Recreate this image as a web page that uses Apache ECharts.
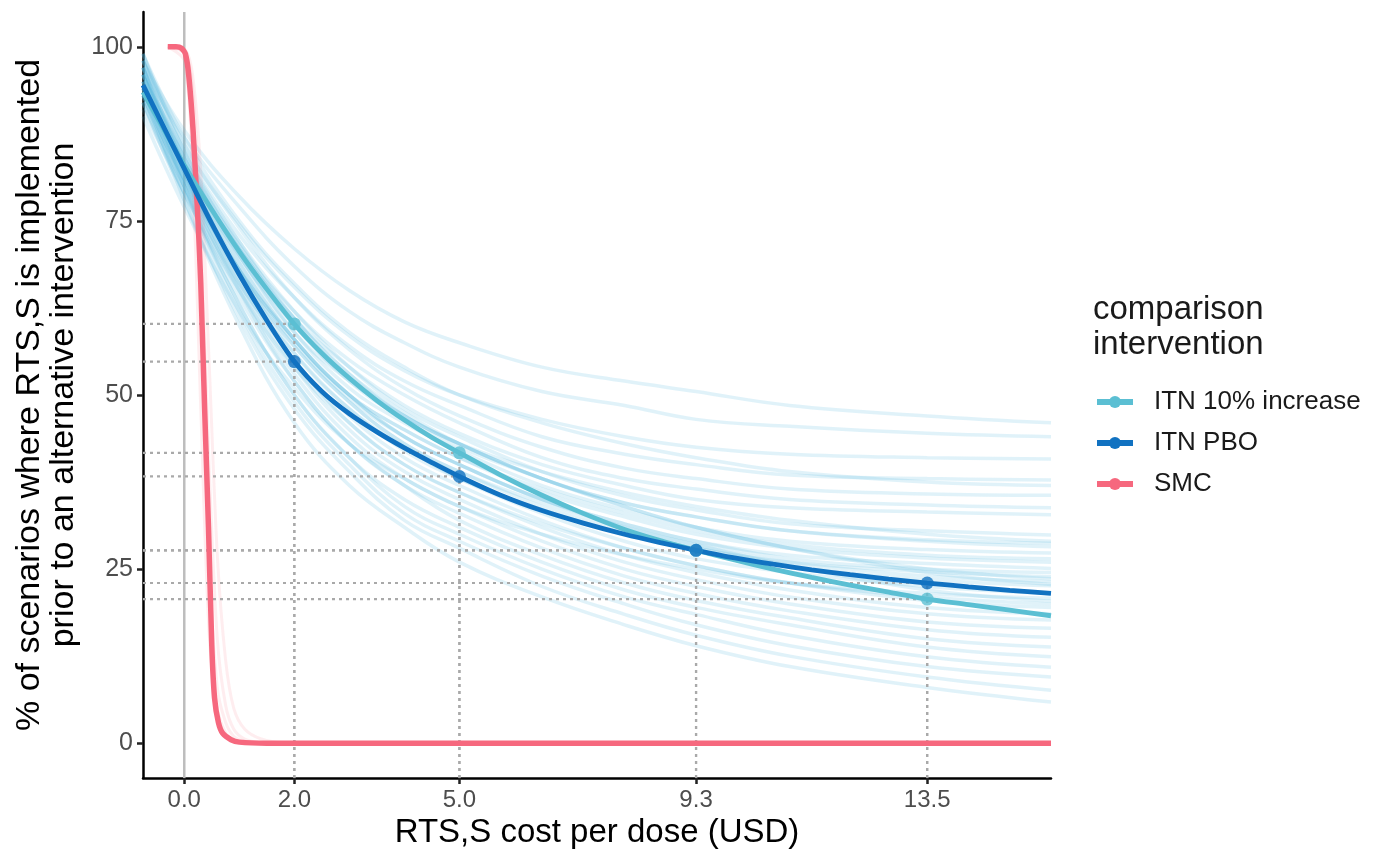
<!DOCTYPE html>
<html>
<head>
<meta charset="utf-8">
<script src="https://cdn.jsdelivr.net/npm/echarts@6/dist/echarts.min.js"></script>
<style>
  html, body { margin: 0; padding: 0; background: #ffffff; }
  #chart { width: 1376px; height: 855px; }
</style>
</head>
<body>
<div id="chart"></div>
<script>
// Axis ranges and tick positions
const costMin = -0.75, costMax = 15.75;
const pctMin = -5, pctMax = 105;
const costTicks = [0, 2, 5, 9.3, 13.5];
const pctTicks = [0, 25, 50, 75, 100];

// Cost values (USD per dose) at which the bootstrap draws are sampled
const drawCost = [-0.75, 0, 1, 2, 3, 4, 5, 6.5, 8, 9.3, 11, 13.5, 15.75];
// Bootstrap draws for the ITN comparisons (% of scenarios)
const itnDraws = [
  [98, 88, 78.5, 71, 65, 60.5, 57.5, 54, 52, 50.5, 48.5, 47, 46],
  [97, 87, 77, 68.5, 62, 57.5, 54, 50.5, 48.5, 46.5, 45.5, 44.5, 44],
  [99, 86, 74.5, 65.5, 58.5, 53.5, 50, 46.5, 44, 42.5, 41.5, 41, 40.8],
  [96, 85, 73, 64, 57, 52, 48.5, 44, 41.5, 40, 38.5, 38, 37.8],
  [98, 86, 74, 64, 56.5, 51, 47, 42.5, 39.5, 38, 36.5, 35.8, 35.6],
  [97, 84, 71.5, 62, 55, 50, 46, 41, 38, 36.5, 35, 34.2, 33.8],
  [95, 83, 71, 61, 54, 48.5, 44.5, 40, 37, 35, 33.8, 33.2, 32.8],
  [96, 84, 72, 62, 54, 48, 44, 39, 35.5, 33.5, 31.5, 30.5, 29.9],
  [99, 85, 71, 60, 52.5, 47, 43, 38, 34.5, 32.5, 30.5, 29.2, 28.7],
  [94, 82, 70, 59, 51, 46, 42, 37, 33.5, 31, 29, 27.8, 27.3],
  [97, 83, 69, 58, 50, 45, 41, 36, 32.5, 30, 28, 26.6, 26],
  [93, 81, 68, 57.5, 49.5, 44, 40, 35, 31.5, 29, 27, 25.8, 25.1],
  [96, 82, 68, 57, 49, 43, 39, 34, 30.5, 28, 26, 24.6, 23.9],
  [98, 83, 68, 56, 48, 42.5, 38, 33, 29, 26.5, 24.5, 22.5, 21.5],
  [95, 81, 67, 55, 47, 41, 37, 32, 28, 25.5, 23, 21, 20],
  [92, 80, 66, 55, 46, 40, 36, 31, 27, 24.5, 22, 19.5, 18.6],
  [97, 82, 66, 54, 45, 39, 35, 30, 26, 23.5, 21, 18.6, 17.7],
  [94, 80, 65, 53, 44, 38, 34, 29, 25, 22.5, 20, 17.4, 16.5],
  [96, 81, 65, 52, 43, 37, 33, 28, 24, 21.5, 19, 16.3, 15.2],
  [91, 79, 64, 52, 43, 37, 32, 27, 23, 20.5, 18, 15, 13.8],
  [95, 80, 63, 50, 41, 35, 31, 26, 22, 19.5, 17, 13.8, 12.4],
  [93, 79, 63, 50, 41, 34, 30, 25, 21, 18.5, 15.5, 12.4, 10.9],
  [97, 80, 62, 49, 40, 33, 29, 24, 20, 17, 14, 11, 9.5],
  [92, 78, 61, 48, 39, 32, 28, 22.5, 18.5, 15.5, 12.5, 9.5, 7.6],
  [94, 78, 60, 46, 37, 31, 26, 21, 17, 14, 11, 8, 5.9],
  [90, 77, 62, 51, 43, 38, 34, 30, 27, 25, 23, 21.5, 20.8],
  [96, 84, 70, 59, 52, 47, 43, 39, 36, 34, 32, 30, 29],
  [98, 85, 72, 61, 53, 47, 43, 38, 34.5, 32.5, 30.5, 29, 28.2],
  [93, 80, 66, 56, 48, 42, 38, 33.5, 30, 28, 25.5, 23.5, 22.6],
  [95, 82, 68, 58, 50, 45, 41, 36.5, 33, 30.5, 28.5, 27, 26.5],
  [99, 87, 75, 66, 59, 54, 50, 46, 43, 41, 39, 37.5, 37],
  [94, 81, 67, 57, 49, 43, 39, 34.5, 31, 28.5, 26, 24, 23.2],
  [92, 79, 65, 54, 46, 40, 36, 31.5, 28, 25.5, 23, 20.5, 19.5],
  [96, 83, 69, 58, 50, 44, 40, 35, 31.5, 29, 26.5, 25, 24.5],
  [97, 84, 70, 60, 52, 46.5, 42.5, 38, 34, 31, 28, 25, 23.6],
  [95, 83, 71, 61, 53, 47.5, 43, 38, 34, 31, 28, 24.5, 22.8],
  [93, 81, 68, 58, 50, 44, 40, 35, 31, 28.5, 25.5, 22, 20.4]
];

// Bootstrap draws for the SMC comparison
const smcDrawCost = [-0.3, 0, 0.15, 0.3, 0.45, 0.6, 0.75, 0.9, 1.1, 1.4, 1.8, 15.75];
const smcDraws = [
  [100, 99, 90, 62, 26, 8, 3, 1, 0.3, 0, 0, 0],
  [100, 99.5, 94, 74, 40, 15, 5.5, 2, 0.6, 0.1, 0, 0],
  [100, 98, 82, 48, 16, 5, 1.5, 0.5, 0, 0, 0, 0],
  [100, 99.7, 96, 82, 55, 27, 12, 5, 2, 0.6, 0.1, 0]
];

// Central estimates for the ITN comparisons
const itnCost = [-0.75, 0, 0.5, 1, 1.5, 2, 2.5, 3, 3.5, 4, 4.5, 5, 5.75, 6.5, 7.25, 8, 8.65, 9.3,
                 10, 10.7, 11.4, 12.1, 12.8, 13.5, 14.25, 15, 15.75];
const itnPct = [93.5, 83, 76.6, 70.6, 65.2, 60.2, 56.0, 52.4, 49.2, 46.4, 43.9, 41.7, 38.5, 35.6, 33.0, 30.7, 29.1, 27.7,
                26.3, 25.0, 23.8, 22.7, 21.7, 20.7, 19.9, 19.1, 18.3];
const pboPct = [94.5, 82.5, 74.6, 67.3, 60.7, 54.8, 50.5, 47.3, 44.7, 42.4, 40.3, 38.3, 35.6, 33.4, 31.6, 30.0, 28.8, 27.7,
                26.6, 25.7, 24.9, 24.2, 23.55, 23.0, 22.45, 21.95, 21.5];
// Central estimate for SMC
const smcCost = [-0.3, -0.15, -0.05, 0.02, 0.08, 0.16, 0.25, 0.3, 0.37, 0.44, 0.5, 0.55, 0.62, 0.7, 0.85, 1.0, 1.5, 15.75];
const smcPct  = [100, 100, 99.8, 99, 96, 88, 75, 66, 48, 31, 14, 6.5, 3, 1.4, 0.5, 0.15, 0, 0];

// Highlighted cost points on each ITN curve
const markedCost = [2, 5, 9.3, 13.5];
const itnMarked = [60.2, 41.7, 27.7, 20.7];
const pboMarked = [54.8, 38.3, 27.7, 23.0];

const names = ['ITN 10% increase', 'ITN PBO', 'SMC'];
const colors = { itn: '#5bbfd3', pbo: '#1172c1', smc: '#f6687e' };
const font = '"Liberation Sans", Arial, sans-serif';

const pair = (xs, ys) => xs.map((x, i) => [x, ys[i]]);

const series = [];

// zero-cost reference line
series.push({
  type: 'line', silent: true, symbol: 'none', z: 1,
  data: [[0, pctMin], [0, pctMax]],
  lineStyle: { color: '#bdbdbd', width: 2.5 }
});

itnDraws.forEach(d => series.push({
  type: 'line', silent: true, symbol: 'none', smooth: 0.4, z: 2,
  data: pair(drawCost, d),
  lineStyle: { color: 'rgba(85,185,220,0.18)', width: 3.5 }
}));
smcDraws.forEach(d => series.push({
  type: 'line', silent: true, symbol: 'none', smooth: 0.3, z: 2,
  data: pair(smcDrawCost, d),
  lineStyle: { color: 'rgba(246,104,126,0.12)', width: 3 }
}));

// dotted guides from highlighted points to the axes
function guides(ys) {
  markedCost.forEach((x, i) => {
    const y = ys[i];
    series.push({
      type: 'line', silent: true, symbol: 'none', z: 3,
      data: [[costMin, y], [x, y]],
      lineStyle: { color: '#a9a9a9', width: 2.2, type: [3, 4] }
    });
    series.push({
      type: 'line', silent: true, symbol: 'none', z: 3,
      data: [[x, pctMin], [x, y]],
      lineStyle: { color: '#a9a9a9', width: 2.2, type: [3, 4] }
    });
  });
}
guides(itnMarked);
guides(pboMarked);

function mainLine(name, xs, ys, color, width, z, smooth) {
  return {
    name, type: 'line', silent: true, smooth,
    symbol: 'circle', symbolSize: 12, showSymbol: false, z,
    data: pair(xs, ys),
    itemStyle: { color },
    lineStyle: { color, width }
  };
}
series.push(mainLine(names[2], smcCost, smcPct, colors.smc, 5.5, 5, 0.2));
series.push(mainLine(names[0], itnCost, itnPct, colors.itn, 4.8, 6, 0.3));
series.push(mainLine(names[1], itnCost, pboPct, colors.pbo, 4.8, 7, 0.3));

series.push({
  type: 'scatter', silent: true, symbolSize: 13, z: 8,
  data: pair(markedCost, itnMarked), itemStyle: { color: colors.itn }
});
series.push({
  type: 'scatter', silent: true, symbolSize: 13, z: 9,
  data: pair(markedCost, pboMarked), itemStyle: { color: colors.pbo }
});

const chart = echarts.init(document.getElementById('chart'), null, { renderer: 'canvas' });
chart.setOption({
  animation: false,
  backgroundColor: '#ffffff',
  textStyle: { fontFamily: font },
  grid: { left: 143, top: 12, width: 908, height: 766, containLabel: false },
  title: {
    text: 'comparison\nintervention',
    left: 1088, top: 287,
    textStyle: { fontFamily: font, fontSize: 33, fontWeight: 'normal', color: '#1a1a1a', lineHeight: 35 }
  },
  legend: {
    data: names,
    orient: 'vertical',
    left: 1089, top: 384,
    itemWidth: 36, itemHeight: 15, itemGap: 15,
    selectedMode: false,
    lineStyle: { width: 6 },
    textStyle: { fontFamily: font, fontSize: 26, color: '#1a1a1a', lineHeight: 26, padding: [0, 0, 0, 16] }
  },
  xAxis: {
    type: 'value', min: costMin, max: costMax,
    name: 'RTS,S cost per dose (USD)', nameLocation: 'middle', nameGap: 34,
    nameTextStyle: { fontFamily: font, fontSize: 33, color: '#000' },
    axisLine: { onZero: false, lineStyle: { color: '#000', width: 2.5 } },
    axisTick: { customValues: costTicks, length: 6, lineStyle: { color: '#222', width: 2.5 } },
    axisLabel: { customValues: costTicks, margin: 10, fontSize: 24, color: '#4d4d4d', fontFamily: font,
                 formatter: v => v.toFixed(1) },
    splitLine: { show: false }
  },
  yAxis: {
    type: 'value', min: pctMin, max: pctMax,
    name: '% of scenarios where RTS,S is implemented\nprior to an alternative intervention',
    nameLocation: 'middle', nameGap: 60,
    nameTextStyle: { fontFamily: font, fontSize: 34, color: '#000', lineHeight: 34 },
    axisLine: { onZero: false, lineStyle: { color: '#000', width: 2.5 } },
    axisTick: { customValues: pctTicks, length: 6, lineStyle: { color: '#222', width: 2.5 } },
    axisLabel: { customValues: pctTicks, margin: 10, fontSize: 25, color: '#4d4d4d', fontFamily: font },
    splitLine: { show: false }
  },
  series
});
</script>
</body>
</html>
